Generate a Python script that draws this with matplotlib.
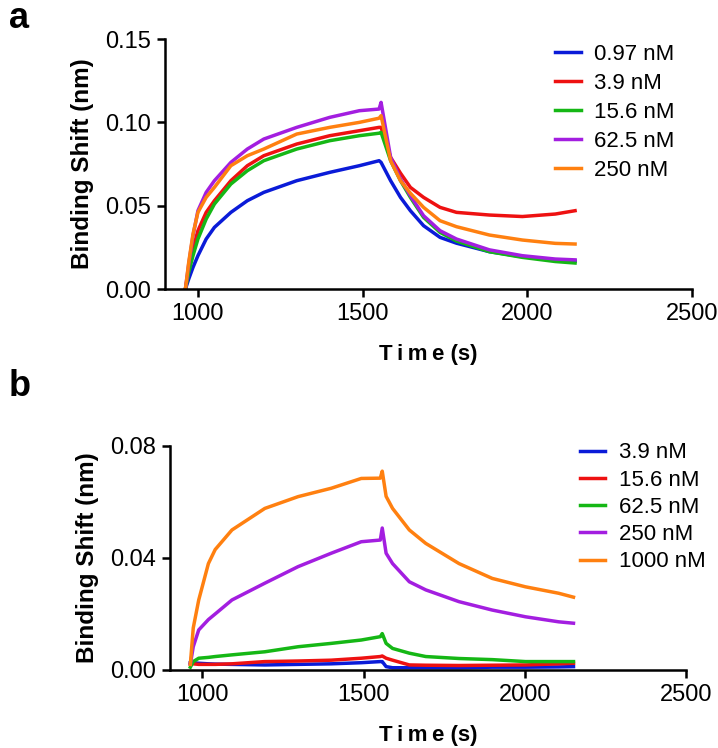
import matplotlib
matplotlib.use('Agg')
import matplotlib.pyplot as plt
from matplotlib.ticker import FormatStrFormatter

plt.rcParams['font.family'] = ['Liberation Sans', 'DejaVu Sans']

# panel a: association (~962-1556 s) then dissociation (to ~2145 s)
t_a = [962, 972, 985, 1000, 1025, 1050, 1100, 1150, 1200, 1300, 1400, 1490, 1550, 1556,
       1585, 1615, 1645, 1685, 1735, 1785, 1885, 1985, 2085, 2145]
a_labels = ['0.97 nM', '3.9 nM', '15.6 nM', '62.5 nM', '250 nM']
a_blue = [0.0, 0.006, 0.013, 0.020, 0.030, 0.037, 0.046, 0.053, 0.058, 0.065, 0.070, 0.074, 0.077, 0.076,
          0.065, 0.055, 0.047, 0.038, 0.031, 0.0275, 0.0224, 0.0194, 0.0174, 0.0168]
a_red = [0.0, 0.012, 0.024, 0.035, 0.046, 0.053, 0.065, 0.074, 0.080, 0.087, 0.092, 0.095, 0.097, 0.097,
         0.079, 0.0695, 0.061, 0.055, 0.049, 0.046, 0.0444, 0.0435, 0.045, 0.047]
a_green = [0.0, 0.010, 0.020, 0.030, 0.042, 0.051, 0.063, 0.071, 0.077, 0.084, 0.089, 0.092, 0.0935, 0.094,
           0.077, 0.065, 0.055, 0.043, 0.034, 0.0288, 0.0224, 0.019, 0.0165, 0.0156]
a_purple = [0.0, 0.015, 0.032, 0.047, 0.058, 0.065, 0.076, 0.084, 0.090, 0.097, 0.103, 0.107, 0.108, 0.112,
            0.079, 0.066, 0.056, 0.044, 0.035, 0.030, 0.0235, 0.020, 0.018, 0.0175]
a_orange = [0.0, 0.016, 0.033, 0.046, 0.055, 0.061, 0.074, 0.080, 0.084, 0.093, 0.097, 0.100, 0.1025, 0.104,
            0.077, 0.065, 0.0575, 0.049, 0.041, 0.0374, 0.0324, 0.0294, 0.0274, 0.027]

# panel b
t_b = [963, 972, 989, 1019, 1040, 1092, 1194, 1297, 1400, 1493, 1552, 1558,
       1570, 1590, 1642, 1693, 1796, 1899, 2002, 2105, 2151]
b_labels = ['3.9 nM', '15.6 nM', '62.5 nM', '250 nM', '1000 nM']
b_blue = [0.0026, 0.0026, 0.0024, 0.0022, 0.0021, 0.002, 0.0018, 0.002, 0.0022, 0.0026, 0.003, 0.003,
          0.0012, 0.0008, 0.0008, 0.0008, 0.0008, 0.001, 0.001, 0.0011, 0.0012]
b_red = [0.0024, 0.0022, 0.002, 0.002, 0.002, 0.0022, 0.003, 0.0032, 0.0035, 0.0042, 0.0048, 0.005,
         0.0042, 0.0035, 0.0018, 0.0017, 0.0016, 0.0017, 0.0018, 0.0022, 0.0024]
b_green = [0.001, 0.003, 0.0042, 0.0045, 0.0048, 0.0054, 0.0065, 0.0083, 0.0095, 0.0107, 0.0119, 0.013,
           0.0095, 0.0077, 0.006, 0.0048, 0.0041, 0.0037, 0.003, 0.003, 0.003]
b_purple = [0.002, 0.0083, 0.0143, 0.018, 0.020, 0.025, 0.031, 0.0369, 0.0417, 0.0458, 0.0464, 0.0507,
            0.0417, 0.038, 0.0315, 0.0286, 0.0244, 0.0214, 0.019, 0.0172, 0.0167]
b_orange = [0.002, 0.015, 0.025, 0.038, 0.043, 0.050, 0.0577, 0.0619, 0.0649, 0.0684, 0.0685, 0.071,
            0.062, 0.0577, 0.050, 0.0452, 0.038, 0.0327, 0.0297, 0.0274, 0.026]

colors = ['#0a1bd8', '#ee1111', '#15b715', '#a31ee0', '#ff8010']

TIME_LABEL = '\u2009'.join('Time') + ' (s)'


def style_axes(ax, yticks, ylim):
    ax.spines['top'].set_visible(False)
    ax.spines['right'].set_visible(False)
    for s in ('left', 'bottom'):
        ax.spines[s].set_linewidth(1.8)
    ax.set_xlim(900, 2500)
    ax.set_ylim(*ylim)
    ax.set_xticks([1000, 1500, 2000, 2500])
    ax.set_yticks(yticks)
    ax.tick_params(width=1.8, length=6, labelsize=17, pad=4)
    ax.set_xlabel(TIME_LABEL, fontsize=16, fontweight='bold', labelpad=14)
    ax.set_ylabel('Binding Shift (nm)', fontsize=17.5, fontweight='bold', labelpad=8)


fig = plt.figure(figsize=(7.18, 7.48), dpi=100)

ax1 = fig.add_axes([0.2298, 0.6136, 0.734, 0.3342])
for ys, c, lab in zip([a_blue, a_red, a_green, a_purple, a_orange], colors, a_labels):
    ax1.plot(t_a, ys, color=c, lw=2.5, label=lab)
style_axes(ax1, [0.0, 0.05, 0.10, 0.15], (0, 0.15))
ax1.yaxis.set_major_formatter(FormatStrFormatter('%.2f'))
ax1.legend(loc='upper left', bbox_to_anchor=(0.703, 1.062), frameon=False, fontsize=16,
           handlelength=1.15, handletextpad=0.6, labelspacing=0.36)

ax2 = fig.add_axes([0.2368, 0.1043, 0.7187, 0.2995])
for ys, c, lab in zip([b_blue, b_red, b_green, b_purple, b_orange], colors, b_labels):
    ax2.plot(t_b, ys, color=c, lw=2.5, label=lab)
style_axes(ax2, [0.0, 0.04, 0.08], (0, 0.08))
ax2.legend(loc='upper left', bbox_to_anchor=(0.755, 1.105), frameon=False, fontsize=16,
           handlelength=1.15, handletextpad=0.6, labelspacing=0.28)

fig.text(0.012, 0.975, 'a', fontsize=26, fontweight='bold', va='center')
fig.text(0.012, 0.483, 'b', fontsize=26, fontweight='bold', va='center')

fig.savefig('out.png', dpi=100)
